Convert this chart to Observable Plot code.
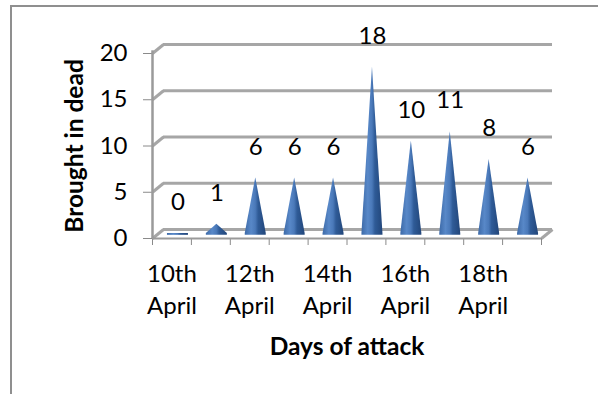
<!DOCTYPE html>
<html>
<head>
<meta charset="utf-8">
<script src="https://cdn.jsdelivr.net/npm/d3@7"></script>
<script src="https://cdn.jsdelivr.net/npm/@observablehq/plot@0.6"></script>
<style>
  html, body { margin: 0; padding: 0; background: #fff; }
  #wrap { position: relative; width: 598px; height: 394px; overflow: hidden; }
  #frame { position: absolute; left: 10px; top: 5px; width: 700px; height: 500px;
           border-left: 2px solid #8f8f8f; border-top: 2px solid #8f8f8f; }
  #chart { position: absolute; left: 0; top: 0; }
  #chart svg text { fill: #000; }
</style>
</head>
<body>
<div id="wrap"><div id="frame"></div><div id="chart"></div></div>
<script>
// ---- data ----
const categories = ["10th April", "11th April", "12th April", "13th April", "14th April",
                    "15th April", "16th April", "17th April", "18th April", "19th April"];
const deaths = [0, 1, 6, 6, 6, 18, 10, 11, 8, 6];
const yTicks = [0, 5, 10, 15, 20];
const yTitle = "Brought in dead";
const xTitle = "Days of attack";

// ---- layout constants (pixels) ----
const W = 598, H = 394;
const mL = 152, mR = 57, mT = 53, mB = 156;
const WALL_DX = 11, WALL_DY = -9;     // depth of back wall
const CONE_DX = 6, CONE_DY = -5;      // cones stand mid-depth
const CONE_HALF = 10.5;               // half base width of cone
const pxX = (W - mL - mR) / categories.length;
const pxY = (H - mT - mB) / 20;

const rows = categories.map((c, i) => ({i, c, v: deaths[i]}));
const coneRows = rows.flatMap(d => [
  {i: d.i, x: d.i - CONE_HALF / pxX, y: 0},
  {i: d.i, x: d.i, y: d.v},
  {i: d.i, x: d.i + CONE_HALF / pxX, y: 0}
]);
const bounds = d3.range(categories.length + 1).map(k => k - 0.5);
const labelRows = rows.filter(d => d.i % 2 === 0);

const gridStyle = {stroke: "#a6a6a6", strokeWidth: 3};
const x0 = -0.5, xN = categories.length - 0.5;
const FS = 24;

const plot = Plot.plot({
  width: W, height: H,
  marginLeft: mL, marginRight: mR, marginTop: mT, marginBottom: mB,
  style: {fontFamily: "Lato, sans-serif", fontSize: FS + "px", color: "#8a8a8a", background: "transparent"},
  x: {type: "linear", domain: [x0, xN], ticks: bounds, tickSize: 7, tickFormat: () => "", label: null},
  y: {domain: [0, 20], ticks: yTicks, tickSize: 9, tickPadding: 16, label: null},
  marks: [
    // back wall gridlines
    Plot.ruleY(yTicks, {...gridStyle, dx: WALL_DX, dy: WALL_DY}),
    // side diagonals connecting front axis to back wall
    Plot.link(yTicks, {x1: x0, y1: d => d, x2: x0 + WALL_DX / pxX, y2: d => d - WALL_DY / pxY, ...gridStyle}),
    // floor right edge
    Plot.link([0], {x1: xN, y1: 0, x2: xN + WALL_DX / pxX, y2: -WALL_DY / pxY, ...gridStyle}),
    // floor front edge
    Plot.ruleY([0], {stroke: "#9a9a9a", strokeWidth: 2}),
    // front vertical axis line
    Plot.ruleX([x0], {y1: 0, y2: 20 - WALL_DY / pxY * 0.3, stroke: "#9a9a9a", strokeWidth: 2.5}),
    // cones
    Plot.areaY(coneRows, {x: "x", y1: -0.2, y2: "y", z: "i", fill: "url(#coneGrad)", dx: CONE_DX, dy: CONE_DY, curve: "linear"}),
    // data labels
    Plot.text(rows, {x: "i", y: "v", text: d => String(d.v), dx: CONE_DX, dy: -36, fontSize: FS}),
    // category labels (every other day)
    Plot.text(labelRows, {x: "i", y: 0, text: d => d.c.replace(" ", "\n"), dy: 49, lineAnchor: "middle", lineHeight: 1.35, fontSize: FS}),
    // axis titles
    Plot.text([xTitle], {frameAnchor: "bottom", dy: 109, lineAnchor: "middle", textAnchor: "middle", fontWeight: "bold", fontSize: 24.5}),
    Plot.text([yTitle], {frameAnchor: "left", dx: -77, rotate: -90, textAnchor: "middle", lineAnchor: "middle", fontWeight: "bold", fontSize: 24.5})
  ]
});

// gradient for cone shading
const ns = "http://www.w3.org/2000/svg";
const defs = document.createElementNS(ns, "defs");
const grad = document.createElementNS(ns, "linearGradient");
grad.setAttribute("id", "coneGrad");
grad.setAttribute("x1", "0"); grad.setAttribute("x2", "1");
grad.setAttribute("y1", "0"); grad.setAttribute("y2", "0");
[["0", "#3d6aa8"], ["0.3", "#5888c8"], ["0.5", "#4a79b9"], ["0.64", "#2f5b97"], ["1", "#22467a"]].forEach(([o, c]) => {
  const s = document.createElementNS(ns, "stop");
  s.setAttribute("offset", o); s.setAttribute("stop-color", c);
  grad.appendChild(s);
});
defs.appendChild(grad);
plot.insertBefore(defs, plot.firstChild);

document.getElementById("chart").appendChild(plot);
</script>
</body>
</html>
